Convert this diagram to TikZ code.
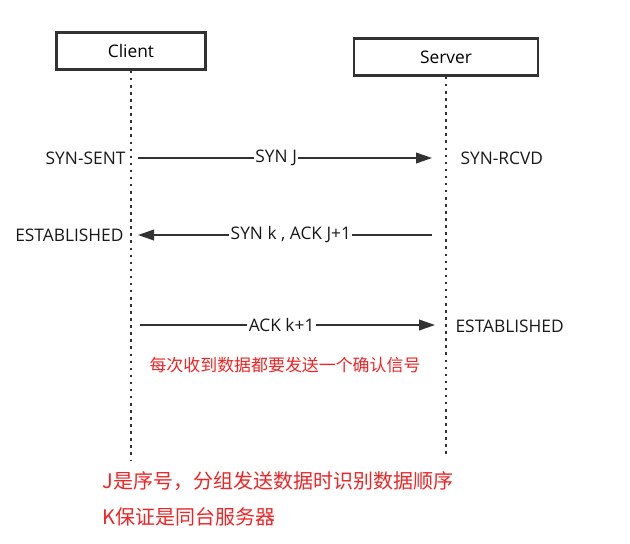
\documentclass[tikz,border=0pt]{standalone}
\usepackage{fontspec}
\setmainfont{Open Sans}
\newfontfamily\cjk{Noto Sans CJK SC}
\usepackage{xcolor}
\usetikzlibrary{positioning, arrows.meta}
\definecolor{notered}{RGB}{240,36,36}
\definecolor{linegray}{RGB}{50,50,50}

\begin{document}
\begin{tikzpicture}[
    x=0.75pt, y=-0.75pt,
    font=\fontsize{13}{15}\selectfont,
    party/.style={rectangle, draw=linegray, line width=1.8pt, minimum width=112pt, minimum height=28pt, fill=white},
    lifeline/.style={draw=linegray, line width=1.9pt, dash pattern=on 1.9pt off 3.4pt},
    state/.style={inner sep=1pt, text=black!90},
    msg/.style={draw=linegray, line width=1.3pt, -{Triangle[length=12pt, width=8pt]}},
    msglabel/.style={fill=white, inner sep=1pt, text=black!90},
    note/.style={text=notered, font=\cjk\fontsize{12.7}{14}\selectfont, inner sep=1pt},
    remark/.style={text=notered, font=\cjk\fontsize{15}{17}\selectfont, inner sep=1pt}
]
\useasboundingbox (0,0) rectangle (630,543);

% the two parties and their lifelines
\node[party] (client) at (131,51) {Client};
\node[party, minimum width=138pt] (server) at (446,57) {Server};
\coordinate (client end) at (131,460);
\coordinate (server end) at (446,455);
\draw[lifeline] (client.south) -- (client end);
\draw[lifeline] (server.south) -- (server end);

% states
\node[state, anchor=east] (sent) at (127,158) {SYN-SENT};
\node[state, anchor=west] (rcvd) at (459,158) {SYN-RCVD};
\node[state, anchor=east] (est client) at (125,235) {ESTABLISHED};
\node[state, anchor=west] (est server) at (454,326) {ESTABLISHED};

% message ends
\coordinate (m1 from) at (138,158);
\coordinate (m1 to) at (432,158);
\coordinate (m2 from) at (432,235);
\coordinate (m2 to) at (138,235);
\coordinate (m3 from) at (140,325);
\coordinate (m3 to) at (435,325);

\draw[msg] (m1 from) -- node[msglabel, pos=0.47] (syn) {SYN J} (m1 to);
\draw[msg] (m2 from) -- node[msglabel, pos=0.48] (synack) {SYN k , ACK J+1} (m2 to);
\draw[msg] (m3 from) -- node[msglabel, pos=0.48] (ack) {ACK k+1} (m3 to);

% notes
\node[note] (every) at (285,365) {每次收到数据都要发送一个确认信号};
\node[remark, anchor=west] (seq) at (101,481) {J是序号，分组发送数据时识别数据顺序};
\node[remark, anchor=west] (same) at (101,517) {K保证是同台服务器};
\end{tikzpicture}
\end{document}
